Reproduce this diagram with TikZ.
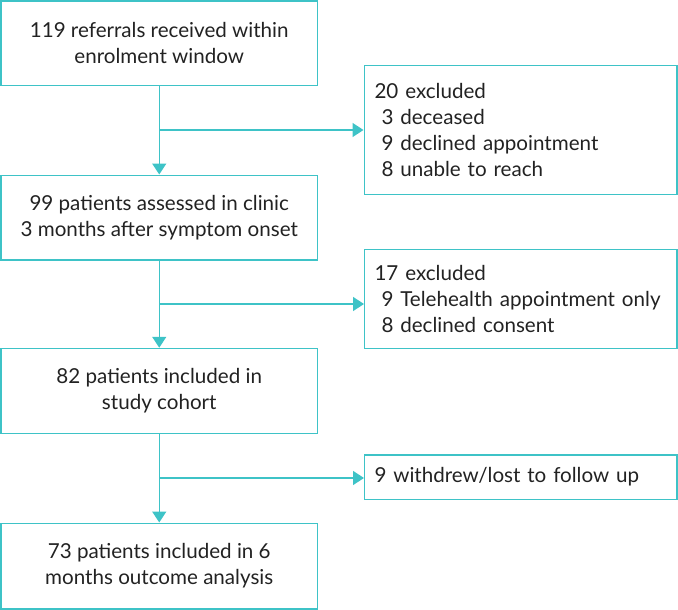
\documentclass[tikz,border=0pt]{standalone}
\usepackage{fontspec}
\setmainfont{Lato}
\usetikzlibrary{arrows.meta}
\definecolor{teal}{HTML}{3EC3C7}
\definecolor{txt}{HTML}{222222}
\begin{document}
\begin{tikzpicture}[x=1pt,y=-1pt,
  lbox/.style={draw=teal,line width=1.5pt,minimum width=316.5pt,inner sep=0pt,align=center,text=txt,font=\fontsize{20.6}{26}\selectfont},
  rbox/.style={draw=teal,line width=1.5pt,minimum width=312.5pt,text width=292pt,inner xsep=10.25pt,inner ysep=0pt,align=left,text=txt,font=\fontsize{20.6}{26}\selectfont},
  flow/.style={draw=teal,line width=1.5pt,-{Triangle[length=11pt,width=14pt]}}]
\useasboundingbox (0,0) rectangle (678,610);
\node[lbox,minimum height=84.5pt] (b1) at (159.25,43.25) {119 referrals received within\\enrolment window};
\node[rbox,minimum height=129pt] (e1) at (520.5,130) {20 excluded\\\hspace*{7pt}3 deceased\\\hspace*{7pt}9 declined appointment\\\hspace*{7pt}8 unable to reach};
\node[lbox,minimum height=84.5pt] (b2) at (159.25,217.5) {99 patients assessed in clinic\\3 months after symptom onset};
\node[rbox,minimum height=99pt] (e2) at (520.5,299) {17 excluded\\\hspace*{7pt}9 Telehealth appointment only\\\hspace*{7pt}8 declined consent};
\node[lbox,minimum height=85pt] (b3) at (159.25,391) {82 patients included in\\study cohort};
\node[rbox,minimum height=44.5pt] (e3) at (520.5,477) {9 withdrew/lost to follow up};
\node[lbox,minimum height=85.5pt] (b4) at (159.25,566) {73 patients included in 6\\months outcome analysis};
\coordinate (j1) at (159.5,130);
\coordinate (j2) at (159.5,304);
\coordinate (j3) at (159.5,478);
\coordinate (t2) at (364,304);
\coordinate (t3) at (364,478);
\draw[flow] (b1.south) -- (b2.north);
\draw[flow] (b2.south) -- (b3.north);
\draw[flow] (b3.south) -- (b4.north);
\draw[flow] (j1) -- (e1.west);
\draw[flow] (j2) -- (t2);
\draw[flow] (j3) -- (t3);
\end{tikzpicture}
\end{document}
